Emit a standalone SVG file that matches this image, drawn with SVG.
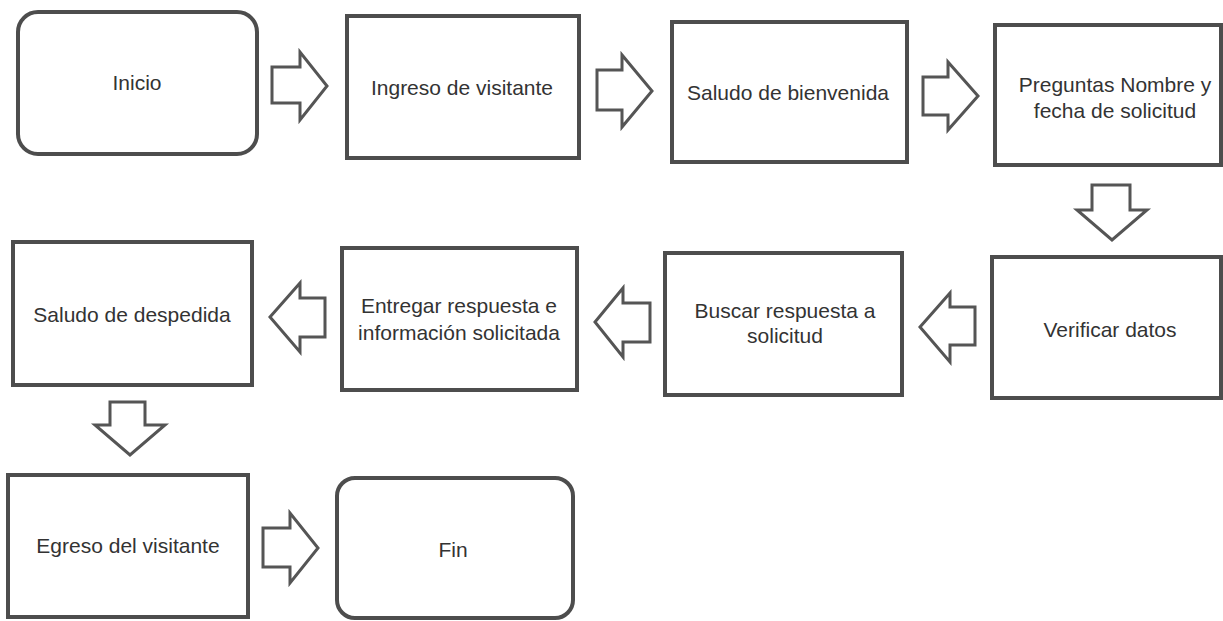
<svg xmlns="http://www.w3.org/2000/svg" width="1223" height="621" viewBox="0 0 1223 621">
<style>
.box{fill:#fff;stroke:#4d4d4d;stroke-width:4}
.arr{fill:#fff;stroke:#555;stroke-width:3;stroke-linejoin:miter}
.lbl{font-family:"Liberation Sans",Arial,sans-serif;font-size:21px;fill:#333;text-anchor:middle}
</style>
<rect width="1223" height="621" fill="#fff"/>
<g id="connectors">
<polygon class="arr" points="272,67 300,67 300,52 327,86 300,120 300,103 272,103"/>
<polygon class="arr" points="597,70 622,70 622,55 652,91 622,127 622,110 597,110"/>
<polygon class="arr" points="923,77 948,77 948,62 978,96 948,130 948,115 923,115"/>
<polygon class="arr" points="1092,185 1130,185 1130,210 1147,210 1112,240 1077,210 1092,210"/>
<polygon class="arr" points="975,307 950,307 950,293 920,327 950,362 950,345 975,345"/>
<polygon class="arr" points="650,303 623,303 623,288 595,322 623,357 623,342 650,342"/>
<polygon class="arr" points="325,298 300,298 300,283 270,317 300,352 300,337 325,337"/>
<polygon class="arr" points="110,402 145,402 145,425 165,425 130,455 95,425 110,425"/>
<polygon class="arr" points="263,528 290,528 290,513 318,548 290,583 290,567 263,567"/>
</g>
<g id="n1"><rect class="box" x="18" y="12" width="239" height="142" rx="20"/><text class="lbl" x="137" y="90">Inicio</text></g>
<g id="n2"><rect class="box" x="347" y="16" width="232" height="142"/><text class="lbl" x="462" y="95">Ingreso de visitante</text></g>
<g id="n3"><rect class="box" x="672" y="22" width="235" height="140"/><text class="lbl" x="788" y="100">Saludo de bienvenida</text></g>
<g id="n4"><rect class="box" x="995" y="25" width="226" height="140"/><text class="lbl" x="1115" y="92">Preguntas Nombre y</text><text class="lbl" x="1115" y="118">fecha de solicitud</text></g>
<g id="n5"><rect class="box" x="992" y="257" width="229" height="141"/><text class="lbl" x="1110" y="337">Verificar datos</text></g>
<g id="n6"><rect class="box" x="665" y="253" width="237" height="142"/><text class="lbl" x="785" y="318">Buscar respuesta a</text><text class="lbl" x="785" y="343">solicitud</text></g>
<g id="n7"><rect class="box" x="342" y="248" width="235" height="142"/><text class="lbl" x="459" y="313">Entregar respuesta e</text><text class="lbl" x="459" y="340">información solicitada</text></g>
<g id="n8"><rect class="box" x="13" y="242" width="239" height="143"/><text class="lbl" x="132" y="322">Saludo de despedida</text></g>
<g id="n9"><rect class="box" x="8" y="475" width="240" height="142"/><text class="lbl" x="128" y="553">Egreso del visitante</text></g>
<g id="n10"><rect class="box" x="337" y="478" width="236" height="140" rx="18"/><text class="lbl" x="453" y="557">Fin</text></g>
</svg>
